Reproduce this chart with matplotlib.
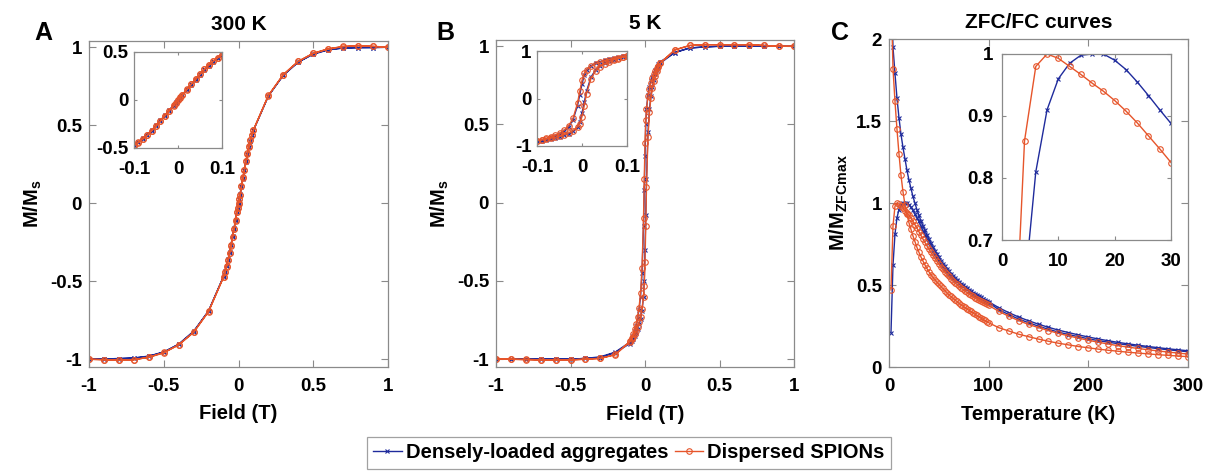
import numpy as np
import matplotlib
matplotlib.use("Agg")
from matplotlib import pyplot as plt

plt.rcParams['font.family'] = ['Liberation Sans', 'DejaVu Sans']
plt.rcParams['font.weight'] = 'bold'
plt.rcParams['axes.labelweight'] = 'bold'
plt.rcParams['axes.titleweight'] = 'bold'
plt.rcParams['mathtext.fontset'] = 'custom'
plt.rcParams['mathtext.rm'] = 'Liberation Sans:bold'
plt.rcParams['mathtext.it'] = 'Liberation Sans:bold'
plt.rcParams['mathtext.bf'] = 'Liberation Sans:bold'
plt.rcParams['axes.unicode_minus'] = False

BLUE = '#1f2b9c'
ORANGE = '#e6552b'
GRID = '#8a8a8a'

# field sweep: +1 T -> -1 T (descending), then -1 T -> +1 T (ascending)
h_down = [1.0, 0.9, 0.8, 0.7, 0.6, 0.5, 0.4, 0.3, 0.2,
          0.1, 0.09, 0.08, 0.07, 0.06, 0.05, 0.04, 0.03, 0.02, 0.01, 0.005, 0.0,
          -0.005, -0.01, -0.02, -0.03, -0.04, -0.05, -0.06, -0.07, -0.08, -0.09, -0.1,
          -0.2, -0.3, -0.4, -0.5, -0.6, -0.7, -0.8, -0.9, -1.0]
h_up = h_down[::-1]

# 300 K
m300_dense_down = [1.0, 0.998, 0.997, 0.995, 0.985, 0.958, 0.905, 0.82, 0.688,
                   0.468, 0.437, 0.402, 0.362, 0.318, 0.268, 0.215, 0.163, 0.11, 0.056, 0.029, 0.002,
                   -0.025, -0.052, -0.106, -0.16, -0.212, -0.265, -0.315, -0.36, -0.4, -0.436, -0.468,
                   -0.69, -0.825, -0.905, -0.953, -0.98, -0.992, -0.996, -0.998, -1.0]
m300_dense_up = [-1.0, -0.998, -0.996, -0.993, -0.982, -0.955, -0.903, -0.82, -0.69,
                 -0.47, -0.438, -0.403, -0.363, -0.319, -0.27, -0.217, -0.165, -0.112, -0.058, -0.03, -0.003,
                 0.024, 0.051, 0.105, 0.158, 0.211, 0.263, 0.314, 0.359, 0.399, 0.435, 0.467,
                 0.688, 0.822, 0.905, 0.955, 0.983, 0.995, 0.998, 0.998, 1.0]
m300_disp_down = [1.0, 1.005, 1.01, 1.005, 0.99, 0.962, 0.91, 0.825, 0.69,
                  0.47, 0.44, 0.405, 0.365, 0.32, 0.27, 0.216, 0.165, 0.11, 0.055, 0.028, 0.0,
                  -0.028, -0.055, -0.11, -0.165, -0.216, -0.27, -0.32, -0.365, -0.405, -0.44, -0.472,
                  -0.695, -0.827, -0.908, -0.957, -0.987, -1.004, -1.008, -1.004, -1.0]
m300_disp_up = [-1.0, -1.003, -1.007, -1.003, -0.988, -0.96, -0.908, -0.828, -0.693,
                -0.474, -0.443, -0.407, -0.367, -0.322, -0.272, -0.219, -0.167, -0.113, -0.058, -0.03, -0.002,
                0.026, 0.053, 0.108, 0.163, 0.214, 0.268, 0.318, 0.363, 0.403, 0.438, 0.47,
                0.692, 0.825, 0.91, 0.96, 0.989, 1.004, 1.01, 1.006, 1.0]

# 5 K
m5_dense_down = [1.0, 1.0, 1.0, 1.0, 1.0, 1.0, 0.995, 0.99, 0.96,
                 0.9, 0.885, 0.87, 0.85, 0.83, 0.805, 0.775, 0.74, 0.69, 0.6, 0.5, 0.3,
                 0.08, -0.15, -0.45, -0.6, -0.685, -0.74, -0.785, -0.82, -0.85, -0.87, -0.89,
                 -0.955, -0.985, -0.995, -1.0, -1.0, -1.0, -1.0, -1.0, -1.0]
m5_dense_up = [-1.0, -1.0, -1.0, -1.0, -1.0, -1.0, -0.995, -0.99, -0.958,
               -0.9, -0.886, -0.87, -0.851, -0.83, -0.806, -0.776, -0.742, -0.69, -0.6, -0.5, -0.3,
               -0.08, 0.15, 0.45, 0.6, 0.684, 0.74, 0.786, 0.82, 0.85, 0.872, 0.89,
               0.96, 0.988, 0.996, 1.0, 1.0, 1.0, 1.0, 1.0, 1.0]
m5_disp_down = [1.0, 1.0, 1.005, 1.01, 1.01, 1.01, 1.01, 1.005, 0.975,
                0.89, 0.875, 0.86, 0.84, 0.82, 0.795, 0.765, 0.73, 0.68, 0.6, 0.53, 0.38,
                0.15, -0.1, -0.42, -0.58, -0.67, -0.73, -0.775, -0.81, -0.84, -0.865, -0.885,
                -0.97, -0.995, -1.0, -1.005, -1.005, -1.005, -1.0, -1.0, -1.0]
m5_disp_up = [-1.0, -1.0, -1.005, -1.005, -1.005, -1.005, -1.0, -0.995, -0.972,
              -0.888, -0.872, -0.858, -0.838, -0.818, -0.793, -0.763, -0.728, -0.678, -0.6, -0.53, -0.38,
              -0.15, 0.1, 0.42, 0.58, 0.672, 0.732, 0.776, 0.812, 0.842, 0.868, 0.89,
              0.978, 1.005, 1.01, 1.01, 1.01, 1.01, 1.005, 1.0, 1.0]

# ZFC / FC, temperatures in K
temp = list(range(2, 101, 2)) + list(range(110, 301, 10))

zfc_dense = [0.21, 0.62, 0.81, 0.91, 0.96, 0.985, 0.998, 1.0, 1.0, 0.99, 0.975, 0.955, 0.933, 0.91, 0.888,
             0.86, 0.832, 0.806, 0.78, 0.755, 0.732, 0.71, 0.689, 0.669, 0.65, 0.632, 0.615, 0.599, 0.584,
             0.57, 0.557, 0.545, 0.533, 0.522, 0.511, 0.501, 0.491, 0.482, 0.473, 0.464, 0.456, 0.448, 0.44,
             0.433, 0.426, 0.419, 0.412, 0.405, 0.399, 0.393,
             0.35, 0.32, 0.293, 0.27, 0.249, 0.23, 0.213, 0.198, 0.185, 0.172, 0.161, 0.151, 0.142, 0.134,
             0.126, 0.119, 0.112, 0.105, 0.099, 0.093]
fc_dense = [2.4, 1.95, 1.79, 1.64, 1.52, 1.42, 1.34, 1.27, 1.2, 1.14, 1.09, 1.04, 1.0, 0.96, 0.925,
            0.892, 0.862, 0.834, 0.806, 0.78, 0.755, 0.731, 0.709, 0.688, 0.668, 0.649, 0.631, 0.614, 0.598,
            0.583, 0.569, 0.556, 0.543, 0.531, 0.52, 0.509, 0.499, 0.489, 0.48, 0.471, 0.462, 0.454, 0.446,
            0.438, 0.431, 0.424, 0.417, 0.41, 0.404, 0.398,
            0.362, 0.332, 0.305, 0.282, 0.261, 0.242, 0.225, 0.21, 0.196, 0.183, 0.171, 0.16, 0.15, 0.141,
            0.133, 0.125, 0.118, 0.111, 0.105, 0.099]
zfc_disp = [0.47, 0.86, 0.98, 1.0, 0.993, 0.98, 0.967, 0.953, 0.94, 0.925, 0.908, 0.889, 0.868, 0.847, 0.825,
            0.803, 0.781, 0.76, 0.739, 0.719, 0.699, 0.68, 0.662, 0.644, 0.627, 0.611, 0.595, 0.58, 0.566,
            0.552, 0.539, 0.527, 0.515, 0.504, 0.493, 0.483, 0.473, 0.464, 0.455, 0.446, 0.438, 0.43, 0.422,
            0.415, 0.408, 0.401, 0.394, 0.388, 0.382, 0.376,
            0.34, 0.31, 0.283, 0.26, 0.24, 0.222, 0.205, 0.19, 0.176, 0.163, 0.151, 0.14, 0.13, 0.121,
            0.113, 0.105, 0.098, 0.091, 0.085, 0.079]
fc_disp = [2.3, 1.82, 1.62, 1.45, 1.30, 1.17, 1.07, 0.99, 0.93, 0.88, 0.84, 0.80, 0.765, 0.73, 0.70,
           0.672, 0.647, 0.623, 0.601, 0.581, 0.563, 0.547, 0.532, 0.518, 0.505, 0.492, 0.479, 0.466, 0.453,
           0.44, 0.43, 0.42, 0.41, 0.40, 0.39, 0.38, 0.372, 0.363, 0.355, 0.347, 0.339, 0.331, 0.323,
           0.315, 0.307, 0.299, 0.291, 0.284, 0.277, 0.27,
           0.24, 0.22, 0.20, 0.185, 0.17, 0.157, 0.145, 0.135, 0.125, 0.117, 0.109, 0.102, 0.096, 0.09,
           0.085, 0.08, 0.075, 0.071, 0.067, 0.063]

labels = ['Densely-loaded aggregates', 'Dispersed SPIONs']

blue_kw = dict(color=BLUE, marker='x', markersize=3.5, markeredgewidth=0.8, linewidth=1.0)
orange_kw = dict(color=ORANGE, marker='o', markersize=4.0, markerfacecolor='none',
                 markeredgewidth=0.8, linewidth=1.0)


def style(ax, xpad=8, ypad=5, length=5):
    for s in ax.spines.values():
        s.set_color(GRID)
        s.set_linewidth(0.9)
    ax.tick_params(direction='in', top=True, right=True, length=length, width=0.8,
                   color=GRID, labelsize=13.5)
    ax.tick_params(axis='x', pad=xpad)
    ax.tick_params(axis='y', pad=ypad)


def fmt(v):
    return ('%g' % v)


fig = plt.figure(figsize=(12.07, 4.74), dpi=100)
W, H = 1207.0, 474.0


def box(l, t, r, b):
    return [l / W, 1 - b / H, (r - l) / W, (b - t) / H]


def hyst(ax, d_down, d_up, o_down, o_up):
    ax.plot(h_down + h_up, d_down + d_up, **blue_kw)
    ax.plot(h_down + h_up, o_down + o_up, **orange_kw)


field_ticks = [-1, -0.5, 0, 0.5, 1]

# ---- A ----
axA = fig.add_axes(box(89, 41, 388, 367))
hyst(axA, m300_dense_down, m300_dense_up, m300_disp_down, m300_disp_up)
axA.set_xlim(-1, 1)
axA.set_ylim(-1.05, 1.04)
axA.set_xticks(field_ticks, [fmt(v) for v in field_ticks])
axA.set_yticks(field_ticks, [fmt(v) for v in field_ticks])
axA.set_xlabel('Field (T)', fontsize=14.5)
axA.set_ylabel('M/M$_\\mathrm{s}$', fontsize=14.5)
axA.set_title('300 K', fontsize=15, pad=8)
style(axA)

insA = fig.add_axes(box(134, 52, 222, 148))
hyst(insA, m300_dense_down, m300_dense_up, m300_disp_down, m300_disp_up)
insA.set_xlim(-0.1, 0.1)
insA.set_ylim(-0.5, 0.5)
insA.set_xticks([-0.1, 0, 0.1], ['-0.1', '0', '0.1'])
insA.set_yticks([-0.5, 0, 0.5], ['-0.5', '0', '0.5'])
style(insA, xpad=9, ypad=4, length=2)

# ---- B ----
axB = fig.add_axes(box(496, 40, 794, 367))
hyst(axB, m5_dense_down, m5_dense_up, m5_disp_down, m5_disp_up)
axB.set_xlim(-1, 1)
axB.set_ylim(-1.05, 1.04)
axB.set_xticks(field_ticks, [fmt(v) for v in field_ticks])
axB.set_yticks(field_ticks, [fmt(v) for v in field_ticks])
axB.set_xlabel('Field (T)', fontsize=14.5)
axB.set_ylabel('M/M$_\\mathrm{s}$', fontsize=14.5)
axB.set_title('5 K', fontsize=15, pad=8)
style(axB)

insB = fig.add_axes(box(537, 51, 627, 146))
hyst(insB, m5_dense_down, m5_dense_up, m5_disp_down, m5_disp_up)
insB.set_xlim(-0.1, 0.1)
insB.set_ylim(-1, 1)
insB.set_xticks([-0.1, 0, 0.1], ['-0.1', '0', '0.1'])
insB.set_yticks([-1, 0, 1], ['-1', '0', '1'])
style(insB, xpad=9, ypad=4, length=2)

# ---- C ----
axC = fig.add_axes(box(889, 39, 1188, 367))
l1, = axC.plot(temp, zfc_dense, **blue_kw)
axC.plot(temp, fc_dense, **blue_kw)
l2, = axC.plot(temp, zfc_disp, **orange_kw)
axC.plot(temp, fc_disp, **orange_kw)
axC.set_xlim(0, 300)
axC.set_ylim(0, 2)
axC.set_xticks([0, 100, 200, 300], ['0', '100', '200', '300'])
axC.set_yticks([0, 0.5, 1, 1.5, 2], ['0', '0.5', '1', '1.5', '2'])
axC.set_xlabel('Temperature (K)', fontsize=14.5)
axC.set_ylabel('M/M$_\\mathrm{ZFCmax}$', fontsize=14.5)
axC.set_title('ZFC/FC curves', fontsize=15, pad=8)
style(axC)

insC = fig.add_axes(box(1002, 54, 1171, 240))
insC.plot(temp, zfc_dense, **blue_kw)
insC.plot(temp, zfc_disp, **orange_kw)
insC.set_xlim(0, 30)
insC.set_ylim(0.7, 1.0)
insC.set_xticks([0, 10, 20, 30], ['0', '10', '20', '30'])
insC.set_yticks([0.7, 0.8, 0.9, 1.0], ['0.7', '0.8', '0.9', '1'])
style(insC, xpad=9, ypad=6, length=3)

for ax in (axA, axB, axC):
    ax.xaxis.set_label_coords(0.5, -0.115)

# panel letters
fig.text(43 / W, 1 - 33 / H, 'A', fontsize=18, ha='center', va='center')
fig.text(445 / W, 1 - 33 / H, 'B', fontsize=18, ha='center', va='center')
fig.text(840 / W, 1 - 33 / H, 'C', fontsize=18, ha='center', va='center')

leg = fig.legend([l1, l2], labels, loc='center', bbox_to_anchor=(629 / W, 1 - 453 / H),
                 ncol=2, fontsize=14.5, frameon=True, fancybox=False, handlelength=1.4,
                 handletextpad=0.2, columnspacing=0.35, borderpad=0.3, borderaxespad=0)
leg.get_frame().set_edgecolor(GRID)
leg.get_frame().set_linewidth(0.9)

fig.savefig('out.png', dpi=100)
